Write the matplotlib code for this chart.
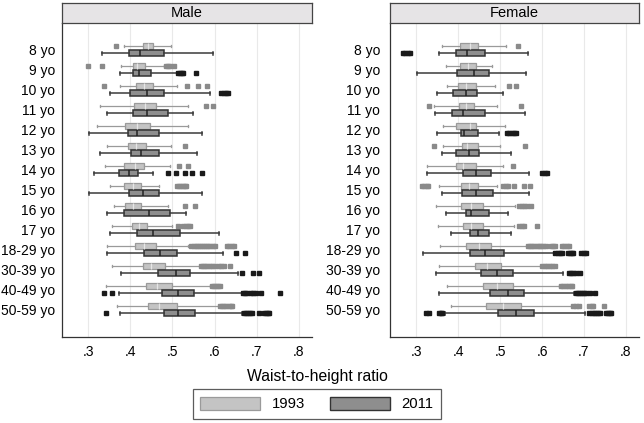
import matplotlib
matplotlib.use("Agg")
import matplotlib.pyplot as plt
from matplotlib.patches import Patch

plt.rcParams['font.family'] = ['Liberation Sans', 'DejaVu Sans']

categories = ["8 yo", "9 yo", "10 yo", "11 yo", "12 yo", "13 yo", "14 yo", "15 yo",
              "16 yo", "17 yo", "18-29 yo", "30-39 yo", "40-49 yo", "50-59 yo"]
xticks = [0.3, 0.4, 0.5, 0.6, 0.7, 0.8]
xticklabels = [".3", ".4", ".5", ".6", ".7", ".8"]
years = ["1993", "2011"]
panels = ["Male", "Female"]

# ---- Male 1993 ----
m93_lo = [.386, .378, .375, .329, .320, .344, .340, .352, .361, .357, .344, .356, .342, .368]
m93_q1 = [.429, .406, .413, .408, .387, .394, .386, .385, .387, .403, .410, .429, .437, .442]
m93_med = [.441, .417, .433, .435, .415, .414, .410, .406, .407, .421, .433, .449, .463, .468]
m93_q3 = [.454, .435, .455, .460, .447, .437, .433, .425, .425, .440, .461, .483, .498, .510]
m93_hi = [.497, .481, .510, .538, .537, .497, .493, .468, .490, .498, .538, .566, .588, .610]
m93_out = [[.367], [.300, .332, .484, .490, .494, .503], [.338, .535, .560, .583], [.579, .595],
           [], [.530], [.516, .538], [.510, .515, .520, .525, .530, .533], [.530, .554],
           [.514, .525, .532, .538, .542],
           [.544, .552, .556, .560, .565, .570, .575, .580, .585, .590, .595, .602, .629, .635, .641, .645],
           [.568, .573, .578, .583, .588, .594, .600, .610, .615, .622, .636],
           [.594, .599, .604, .608, .612],
           [.613, .618, .623, .628, .633, .638, .641]]

# ---- Male 2011 ----
m11_lo = [.333, .376, .352, .344, .302, .328, .313, .303, .344, .352, .344, .379, .373, .375]
m11_q1 = [.398, .406, .400, .407, .394, .401, .374, .398, .384, .416, .433, .466, .476, .479]
m11_med = [.422, .421, .440, .440, .417, .425, .396, .430, .445, .455, .470, .508, .514, .514]
m11_q3 = [.479, .449, .480, .489, .467, .469, .418, .467, .495, .519, .510, .542, .550, .554]
m11_hi = [.597, .510, .588, .548, .571, .559, .455, .570, .533, .610, .621, .656, .665, .665]
m11_out = [[], [.513, .518, .523, .526, .555], [.616, .622, .628, .631], [], [], [],
           [.489, .508, .529, .546, .570], [], [], [], [.651, .671], [.665, .690, .705],
           [.337, .356, .667, .672, .677, .687, .692, .698, .710, .756],
           [.342, .669, .674, .679, .684, .689, .705, .717, .722, .727, .730]]

# ---- Female 1993 ----
f93_lo = [.362, .371, .374, .343, .365, .365, .327, .355, .348, .352, .357, .355, .374, .383]
f93_q1 = [.405, .405, .401, .403, .395, .409, .394, .407, .407, .413, .420, .440, .460, .466]
f93_med = [.428, .424, .419, .420, .429, .421, .413, .425, .432, .432, .449, .470, .494, .506]
f93_q3 = [.448, .443, .443, .439, .444, .447, .443, .447, .459, .460, .478, .503, .532, .550]
f93_hi = [.514, .482, .488, .494, .512, .500, .506, .493, .535, .534, .564, .597, .641, .672]
f93_out = [[.542], [], [.522, .538], [.332, .549], [], [.343, .560], [.530],
           [.314, .320, .326, .329, .508, .514, .520, .534, .558, .571],
           [.546, .552, .558, .565, .574], [.546, .552, .558, .588],
           [.567, .572, .577, .582, .587, .592, .597, .602, .609, .621, .626, .631, .647, .653, .659, .665],
           [.600, .606, .612, .618, .624, .631],
           [.645, .650, .656, .662, .668, .672],
           [.675, .681, .687, .712, .718, .722, .748]]

# ---- Female 2011 ----
f11_lo = [.355, .302, .350, .346, .350, .361, .327, .362, .371, .384, .316, .347, .355, .370]
f11_q1 = [.395, .397, .388, .386, .407, .395, .413, .409, .420, .428, .429, .454, .475, .495]
f11_med = [.422, .439, .418, .411, .415, .426, .444, .442, .430, .447, .464, .493, .518, .539]
f11_q3 = [.465, .474, .446, .464, .447, .449, .478, .484, .473, .474, .510, .531, .558, .581]
f11_hi = [.567, .562, .506, .560, .497, .525, .569, .569, .519, .527, .628, .649, .677, .702]
f11_out = [[.268, .274, .280, .286], [], [], [], [.516, .522, .528, .533, .539], [],
           [.601, .607, .613], [], [], [],
           [.632, .637, .642, .647, .661, .666, .671, .675, .694, .699, .704],
           [.665, .670, .675, .680, .691],
           [.681, .686, .691, .696, .701, .704, .715, .726],
           [.324, .330, .355, .360, .363, .712, .718, .724, .728, .733, .737, .752, .757, .762, .764]]


def make_stats(lo, q1, med, q3, hi, out):
    return [dict(whislo=lo[i], q1=q1[i], med=med[i], q3=q3[i], whishi=hi[i],
                 fliers=out[i], label=categories[i]) for i in range(len(categories))]


W, H = 644, 423
fig = plt.figure(figsize=(W / 100, H / 100), dpi=100)
fig.patch.set_facecolor('white')

light_fill, light_edge = '#c4c4c4', '#9a9a9a'
dark_fill, dark_edge = '#8e8e8e', '#333333'

data = {
    "Male": (make_stats(m93_lo, m93_q1, m93_med, m93_q3, m93_hi, m93_out),
             make_stats(m11_lo, m11_q1, m11_med, m11_q3, m11_hi, m11_out)),
    "Female": (make_stats(f93_lo, f93_q1, f93_med, f93_q3, f93_hi, f93_out),
               make_stats(f11_lo, f11_q1, f11_med, f11_q3, f11_hi, f11_out)),
}

lefts = {"Male": (62, 312), "Female": (390, 639)}
ax_top, ax_bot = 23, 337
strip_top = 3

n = len(categories)
pos = list(range(n))
off = 0.18
bw = 0.28

for name in panels:
    l, r = lefts[name]
    ax = fig.add_axes([l / W, 1 - ax_bot / H, (r - l) / W, (ax_bot - ax_top) / H])
    s93, s11 = data[name]
    ax.bxp(s93, positions=[p - off for p in pos], widths=bw, orientation='horizontal',
           patch_artist=True, capwidths=0.14,
           boxprops=dict(facecolor=light_fill, edgecolor=light_edge, linewidth=0.9),
           whiskerprops=dict(color=light_edge, linewidth=0.9),
           capprops=dict(color=light_edge, linewidth=0.9),
           medianprops=dict(color='#e6e6e6', linewidth=0.9),
           flierprops=dict(marker='s', markersize=3, markerfacecolor='#8a8a8a',
                           markeredgecolor='#8a8a8a', linestyle='none'),
           manage_ticks=False)
    ax.bxp(s11, positions=[p + off for p in pos], widths=bw, orientation='horizontal',
           patch_artist=True, capwidths=0.14,
           boxprops=dict(facecolor=dark_fill, edgecolor=dark_edge, linewidth=1.1),
           whiskerprops=dict(color='#3a3a3a', linewidth=1.1),
           capprops=dict(color='#3a3a3a', linewidth=1.1),
           medianprops=dict(color='#222222', linewidth=1.1),
           flierprops=dict(marker='s', markersize=3.2, markerfacecolor='#1a1a1a',
                           markeredgecolor='#1a1a1a', linestyle='none'),
           manage_ticks=False)
    ax.set_ylim(n - 1 + 1.37, -1.33)
    ax.set_xlim(0.238, 0.831)
    ax.set_yticks(pos)
    ax.set_yticklabels(categories, fontsize=10)
    ax.set_xticks(xticks)
    ax.set_xticklabels(xticklabels, fontsize=10)
    ax.tick_params(axis='both', length=0, pad=6)
    ax.tick_params(axis='y', pad=5 if name == "Male" else 7)
    ax.grid(axis='x', color='#e9e9e9', linewidth=0.8)
    ax.set_axisbelow(True)
    for sp in ['top', 'right']:
        ax.spines[sp].set_visible(False)
    for sp in ['left', 'bottom']:
        ax.spines[sp].set_color('#333333')
        ax.spines[sp].set_linewidth(0.9)

    sax = fig.add_axes([l / W, 1 - ax_top / H, (r - l) / W, (ax_top - strip_top) / H])
    sax.set_facecolor('#e6e4e6')
    sax.set_xticks([])
    sax.set_yticks([])
    for sp in sax.spines.values():
        sp.set_color('#444444')
        sp.set_linewidth(0.9)
    sax.text(0.5, 0.5, name, ha='center', va='center', fontsize=10.5,
             transform=sax.transAxes)

fig.text(317 / W, 1 - 377 / H, "Waist-to-height ratio", ha='center', va='center',
         fontsize=11.3)

handles = [Patch(facecolor=light_fill, edgecolor=light_edge, linewidth=0.9),
           Patch(facecolor=dark_fill, edgecolor=dark_edge, linewidth=1.0)]
leg = fig.legend(handles, years, loc='center', bbox_to_anchor=(317 / W, 1 - 404 / H),
                 ncol=2, fontsize=10.7, frameon=True, fancybox=False,
                 handlelength=4.0, handleheight=1.0, columnspacing=1.7,
                 handletextpad=0.8, borderpad=0.5)
leg.get_frame().set_edgecolor('#333333')
leg.get_frame().set_linewidth(0.9)

fig.savefig("out.png", dpi=100)
